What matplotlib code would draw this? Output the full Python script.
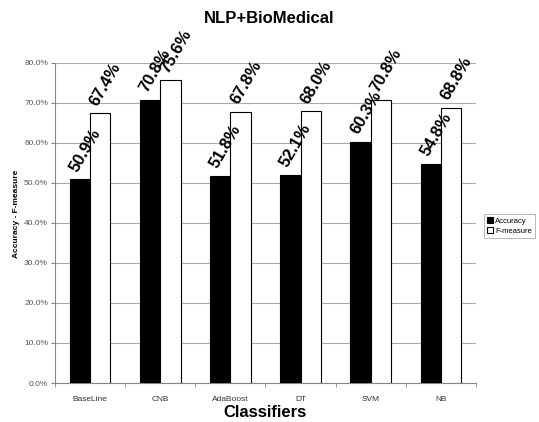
import matplotlib
matplotlib.use("Agg")
import matplotlib.pyplot as plt
import numpy as np
from matplotlib.ticker import FuncFormatter

plt.rcParams['font.family'] = ['Liberation Sans', 'DejaVu Sans']

classifiers = ['BaseLine', 'CNB', 'AdaBoost', 'DT', 'SVM', 'NB']
accuracy = [50.9, 70.8, 51.8, 52.1, 60.3, 54.8]
fmeasure = [67.4, 75.6, 67.8, 68.0, 70.8, 68.8]

fig = plt.figure(figsize=(5.39, 4.22), dpi=100)
ax = fig.add_axes([0.102, 0.0924, 0.781, 0.7586])

x = np.arange(len(classifiers))
w = 0.29
b1 = ax.bar(x - w/2, accuracy, w, color='black', edgecolor='black', linewidth=0.8, label='Accuracy', zorder=3)
b2 = ax.bar(x + w/2, fmeasure, w, color='white', edgecolor='black', linewidth=0.8, label='F-measure', zorder=3)

# rotated value labels above each bar
for bars, vals in ((b1, accuracy), (b2, fmeasure)):
    for r, v in zip(bars, vals):
        ax.text(r.get_x() + r.get_width()*0.5, v + 1.2, '%.1f%%' % v, rotation=60,
                ha='left', va='bottom', rotation_mode='anchor',
                fontsize=12, fontweight='bold', zorder=4)

ax.set_xlim(-0.5, len(classifiers) - 0.5)
ax.set_ylim(0, 80)
ax.set_yticks(np.arange(0, 81, 10))
ax.yaxis.set_major_formatter(FuncFormatter(lambda v, p: '%.1f%%' % v))
ax.grid(axis='y', color='#aaaaaa', linewidth=0.8, zorder=0)
ax.set_xticks(x)
ax.set_xticklabels(classifiers, fontsize=6, color='#333333')
ax.set_xticks(np.arange(-0.5, len(classifiers)), minor=True)
ax.tick_params(axis='x', which='major', length=0, pad=9)
ax.tick_params(axis='x', which='minor', length=3, color='#888888')
ax.tick_params(axis='y', labelsize=6, colors='#555555', length=3, pad=2)
ax.tick_params(axis='y', color='#888888')
for s in ['top', 'right']:
    ax.spines[s].set_visible(False)
for s in ['left', 'bottom']:
    ax.spines[s].set_color('#888888')

ax.set_xlabel('Classifiers', fontsize=12, fontweight='bold', labelpad=2)
ax.set_ylabel('Accuracy - F-measure', fontsize=6, fontweight='bold')
ax.yaxis.set_label_coords(-0.083, 0.53)
fig.text(0.5, 0.955, 'NLP+BioMedical', ha='center', va='center', fontsize=12, fontweight='bold')

leg = ax.legend(loc='center left', bbox_to_anchor=(1.01, 0.49), fontsize=5.5, frameon=True,
                fancybox=False, edgecolor='#999999', handlelength=0.8, handleheight=0.8,
                handletextpad=0.3, borderpad=0.4, labelspacing=0.3)
leg.get_frame().set_linewidth(0.6)

fig.savefig('out.png', dpi=100)
